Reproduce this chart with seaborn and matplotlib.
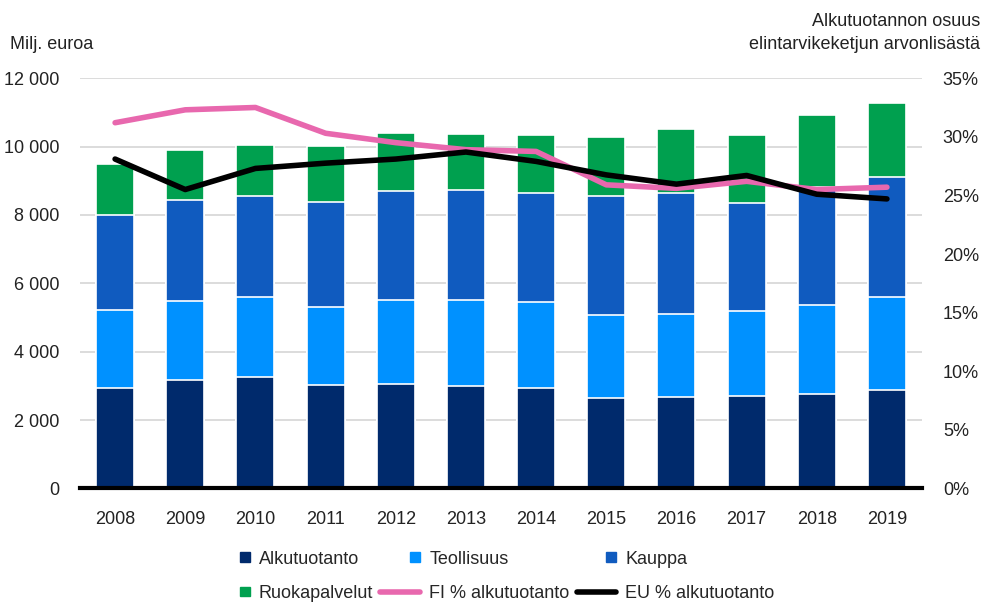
"""Elintarvikeketjun arvonlisäys, pinottu pylväs + alkutuotannon osuus"""

import numpy as np
import pandas as pd
import matplotlib
matplotlib.use("Agg")
import matplotlib.pyplot as plt
import matplotlib.ticker as mticker
from matplotlib.lines import Line2D
from matplotlib.patches import Patch, Rectangle
from matplotlib.legend_handler import HandlerPatch
import seaborn as sns

years = [str(y) for y in range(2008, 2020)]
alkutuotanto = [2947, 3171, 3250, 3015, 3044, 2985, 2945, 2634, 2663, 2693, 2751, 2868]
teollisuus = [2263, 2322, 2341, 2302, 2459, 2518, 2508, 2448, 2439, 2507, 2605, 2732]
kauppa = [2801, 2948, 2957, 3074, 3199, 3228, 3200, 3474, 3551, 3142, 3473, 3503]
ruokapalvelut = [1464, 1454, 1502, 1630, 1707, 1649, 1697, 1718, 1856, 2001, 2098, 2175]
fi_osuus = [31.2, 32.3, 32.5, 30.3, 29.5, 28.9, 28.75, 25.9, 25.6, 26.2, 25.5, 25.7]
eu_osuus = [28.1, 25.5, 27.3, 27.75, 28.1, 28.7, 27.9, 26.75, 25.96, 26.7, 25.1, 24.7]

colors = {"Alkutuotanto": "#002a6c", "Teollisuus": "#0091ff",
          "Kauppa": "#105bbf", "Ruokapalvelut": "#00a04f"}
pink = "#e868ae"
txt = "#222222"

sns.set_style("white")
plt.rcParams['font.family'] = ['Liberation Sans', 'DejaVu Sans']
FS = 13

df = pd.DataFrame({"year": years, "Alkutuotanto": alkutuotanto, "Teollisuus": teollisuus,
                   "Kauppa": kauppa, "Ruokapalvelut": ruokapalvelut})
parts = ["Alkutuotanto", "Teollisuus", "Kauppa", "Ruokapalvelut"]
cum = df[parts].cumsum(axis=1)

fig = plt.figure(figsize=(9.84, 6.06), dpi=100)
ax = fig.add_axes([0.0813, 0.194, 0.8557, 0.677])

# stacked bars: draw cumulative totals from top to bottom
for p in parts[::-1]:
    sns.barplot(x=df["year"], y=cum[p], color=colors[p], width=0.54,
                edgecolor="white", linewidth=1.2, saturation=1, ax=ax, zorder=2)

ax.set_ylim(0, 12000)
ax.set_xlim(-0.5, 11.5)
ax.set_yticks(range(0, 12001, 2000))
ax.yaxis.set_major_formatter(mticker.FuncFormatter(lambda v, _: f"{int(v):,}".replace(",", " ")))
ax.grid(axis="y", color="#d9d9d9", linewidth=1.3, zorder=0)
ax.set_axisbelow(True)
ax.set_xlabel("")
ax.set_ylabel("")
for s in ["top", "right", "left"]:
    ax.spines[s].set_visible(False)
ax.spines["bottom"].set_color("black")
ax.spines["bottom"].set_linewidth(3)
ax.spines["bottom"].set_zorder(5)
ax.tick_params(axis="both", length=0, labelsize=FS, colors=txt)
ax.tick_params(axis="x", pad=16)
ax.tick_params(axis="y", pad=15)

ax2 = ax.twinx()
xs = np.arange(len(years))
sns.lineplot(x=xs, y=fi_osuus, color=pink, linewidth=4, ax=ax2, sort=False,
             solid_capstyle="round")
sns.lineplot(x=xs, y=eu_osuus, color="black", linewidth=4, ax=ax2, sort=False,
             solid_capstyle="round")
ax2.set_ylim(0, 35)
ax2.set_yticks(range(0, 36, 5))
ax2.yaxis.set_major_formatter(mticker.FuncFormatter(lambda v, _: f"{int(v)}%"))
ax2.tick_params(axis="y", length=0, labelsize=FS, colors=txt, pad=15)
for s in ax2.spines.values():
    s.set_visible(False)
ax2.set_xlim(-0.5, 11.5)

fig.text(0.01, 0.926, "Milj. euroa", fontsize=FS, ha="left", va="center", color=txt)
fig.text(0.996, 0.945, "Alkutuotannon osuus\nelintarvikeketjun arvonlisästä", fontsize=FS,
         ha="right", va="center", color=txt, linespacing=1.45)


def small_square(legend, orig_handle, xdescent, ydescent, width, height, fontsize):
    s = 0.55 * fontsize
    return Rectangle((width - xdescent - s, -ydescent + (height - s) / 2), s, s)


handles = [Patch(color=colors["Alkutuotanto"]), Patch(color=colors["Ruokapalvelut"]),
           Patch(color=colors["Teollisuus"]), Line2D([], [], color=pink, lw=4),
           Patch(color=colors["Kauppa"]), Line2D([], [], color="black", lw=4)]
labels = ["Alkutuotanto", "Ruokapalvelut", "Teollisuus", "FI % alkutuotanto",
          "Kauppa", "EU % alkutuotanto"]
fig.legend(handles, labels, ncol=3, loc="center left", bbox_to_anchor=(0.197, 0.049),
           frameon=False, fontsize=FS, handlelength=2.2, handleheight=0.6,
           columnspacing=0.4, labelspacing=0.95, handletextpad=0.5,
           handler_map={Patch: HandlerPatch(patch_func=small_square)})

fig.savefig("out.png", dpi=100)
